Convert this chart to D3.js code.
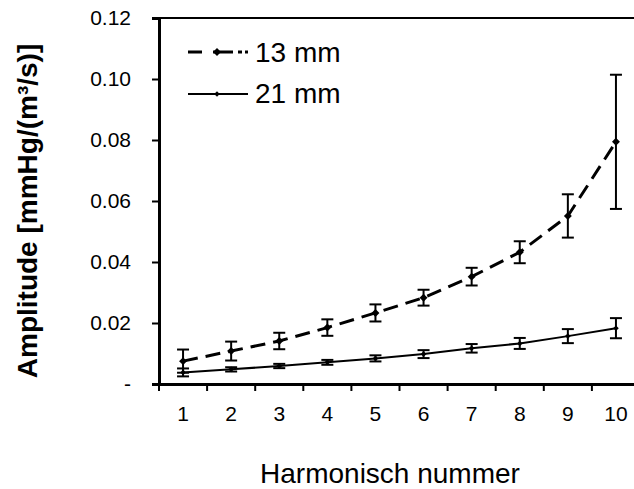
<!DOCTYPE html>
<html><head><meta charset="utf-8">
<script src="https://cdn.jsdelivr.net/npm/d3@7"></script>
<style>
html,body{margin:0;padding:0;background:#fff;}
svg{display:block;font-family:Arial,"Liberation Sans",sans-serif;}
</style></head>
<body>
<svg id="chart" width="634" height="489"></svg>
<script>
const harmonics = [1,2,3,4,5,6,7,8,9,10];
const mean13 = [0.0075,0.0108,0.0141,0.0185,0.0233,0.0283,0.0352,0.0432,0.0551,0.0794];
const err13  = [0.0038,0.0031,0.0027,0.0027,0.0028,0.0026,0.0029,0.0036,0.0071,0.0220];
const mean21 = [0.0038,0.0048,0.0059,0.0071,0.0084,0.0098,0.0117,0.0133,0.0157,0.0183];
const err21  = [0.0013,0.0007,0.0007,0.0008,0.0010,0.0013,0.0014,0.0018,0.0023,0.0033];
const yTicks = [0,0.02,0.04,0.06,0.08,0.10,0.12];
const seriesNames = ["13 mm","21 mm"];

const svg = d3.select("#chart");
const pL = 159, pR = 640, pT = 18, pB = 384;
const FONT = "Arial, 'Liberation Sans', sans-serif";

const x = d3.scaleBand().domain(harmonics).range([pL, pR]);
const y = d3.scaleLinear().domain([0, 0.12]).range([pB, pT]);

// top border
svg.append("line").attr("x1", pL).attr("x2", 634).attr("y1", pT).attr("y2", pT)
  .attr("stroke", "#000").attr("stroke-width", 2);

// y axis
const yAxis = svg.append("g").attr("transform", `translate(${pL},0)`)
  .call(d3.axisLeft(y).tickValues(yTicks).tickSize(7).tickPadding(21)
    .tickFormat(d => d === 0 ? "-" : d3.format(".2f")(d)));
yAxis.select(".domain").attr("stroke-width", 3);
yAxis.selectAll(".tick line").attr("stroke-width", 2);
yAxis.selectAll("text").attr("font-size", 21).attr("font-family", FONT).attr("fill", "#000");

// x axis
const xAxis = svg.append("g").attr("transform", `translate(0,${pB})`)
  .call(d3.axisBottom(x).tickSize(0).tickPadding(22));
xAxis.select(".domain").attr("stroke-width", 3);
xAxis.selectAll("text").attr("font-size", 21).attr("font-family", FONT).attr("fill", "#000");
// category boundary ticks
const bounds = harmonics.map(h => x(h));
svg.append("g").selectAll("line").data(bounds).join("line")
  .attr("x1", d => d).attr("x2", d => d).attr("y1", pB).attr("y2", pB + 7)
  .attr("stroke", "#000").attr("stroke-width", 2);

const cx = h => x(h) + x.bandwidth() / 2;

function drawSeries(means, errs, dashed) {
  const g = svg.append("g");
  harmonics.forEach((h, i) => {
    const xx = cx(h), y1 = y(means[i] + errs[i]), y0 = y(means[i] - errs[i]);
    g.append("line").attr("x1", xx).attr("x2", xx).attr("y1", y1).attr("y2", y0).attr("stroke", "#000").attr("stroke-width", 2);
    g.append("line").attr("x1", xx - 6).attr("x2", xx + 6).attr("y1", y1).attr("y2", y1).attr("stroke", "#000").attr("stroke-width", 2);
    g.append("line").attr("x1", xx - 6).attr("x2", xx + 6).attr("y1", y0).attr("y2", y0).attr("stroke", "#000").attr("stroke-width", 2);
  });
  const line = d3.line().x((d, i) => cx(harmonics[i])).y(d => y(d));
  g.append("path").attr("d", line(means)).attr("fill", "none").attr("stroke", "#000")
    .attr("stroke-width", dashed ? 3 : 2).attr("stroke-dasharray", dashed ? "15,8" : null);
  g.selectAll("path.m").data(means).join("path").attr("class", "m")
    .attr("d", d3.symbol(d3.symbolDiamond2, dashed ? 40 : 20)())
    .attr("transform", (d, i) => `translate(${cx(harmonics[i])},${y(d)})`).attr("fill", "#000");
}
drawSeries(mean13, err13, true);
drawSeries(mean21, err21, false);

// legend
const leg = svg.append("g");
[[52, true, 62], [94, false, 103]].forEach(([ly, dashed, by], k) => {
  leg.append("line").attr("x1", 188).attr("x2", 248).attr("y1", ly).attr("y2", ly)
    .attr("stroke", "#000").attr("stroke-width", dashed ? 3 : 2)
    .attr("stroke-dasharray", dashed ? "14,11,20,5,4,3,4" : null);
  leg.append("path").attr("d", d3.symbol(d3.symbolDiamond2, dashed ? 40 : 20)())
    .attr("transform", `translate(217,${ly})`).attr("fill", "#000");
  leg.append("text").attr("x", 255).attr("y", by).attr("font-size", 28).attr("font-family", FONT).text(seriesNames[k]);
});

// axis titles
svg.append("text").attr("x", 390).attr("y", 483).attr("text-anchor", "middle")
  .attr("font-size", 28).attr("font-family", FONT).text("Harmonisch nummer");
svg.append("text").attr("transform", `translate(37,${(pT + pB) / 2 + 10}) rotate(-90)`)
  .attr("text-anchor", "middle").attr("font-size", 28).attr("font-weight", "bold").attr("font-family", FONT)
  .text("Amplitude [mmHg/(m³/s)]");
</script>
</body></html>
